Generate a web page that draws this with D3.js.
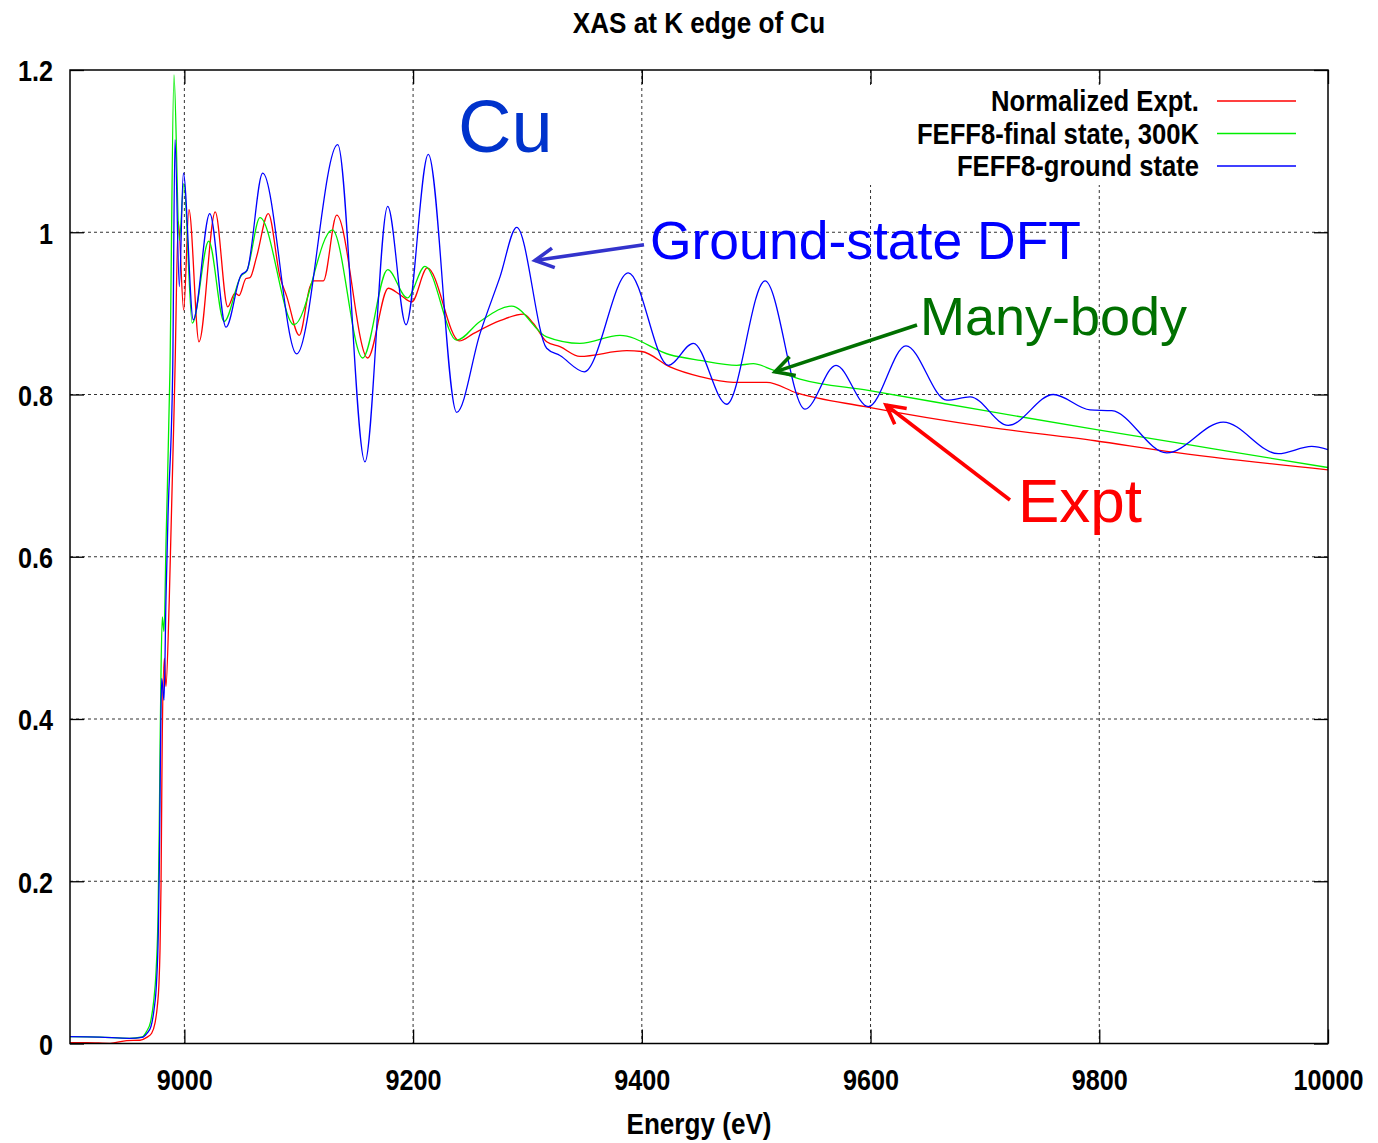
<!DOCTYPE html>
<html>
<head>
<meta charset="utf-8">
<script src="https://cdn.jsdelivr.net/npm/d3@7"></script>
<style>
  html, body { margin: 0; padding: 0; background: #fff; }
  svg { display: block; }
  .narrow { font-family: "Liberation Sans", Arial, Helvetica, sans-serif; font-weight: bold; }
  .ann { font-family: "Liberation Sans", Arial, Helvetica, sans-serif; }
</style>
</head>
<body>
<script>
// ---------------- data ----------------
const xTicks = [9000, 9200, 9400, 9600, 9800, 10000];
const yTicks = [0, 0.2, 0.4, 0.6, 0.8, 1.0, 1.2];
const seriesNames = ["Normalized Expt.", "FEFF8-final state, 300K", "FEFF8-ground state"];
const seriesColors = ["#ff0000", "#00ee00", "#0000ff"];

// Normalized experiment (red)
const exptE = [8900, 8915, 8935, 8949.6, 8961.2, 8967.1, 8971.4, 8974.3, 8976.3, 8977.8, 8978.7, 8979.6, 8980.2, 8980.7, 8982.5, 8983.9, 8986.8, 8991.8, 8994.7, 8999.4, 9004, 9012.8, 9027, 9037.9, 9044.3, 9047.8, 9053.9, 9057.4, 9063.2, 9073.4, 9083.6, 9089.5, 9100.5, 9109.9, 9112.8, 9121.5, 9133.2, 9160.3, 9178.3, 9188.6, 9198.8, 9212.4, 9240.4, 9252.6, 9276, 9296.4, 9305, 9316.8, 9328.4, 9345.9, 9386.8, 9400, 9424.6, 9450.9, 9480, 9509.2, 9535.4, 9595.1, 9701.6, 9796.3, 9859, 10000];
const exptV = [0.001, 0.001, 0.0002, 0.0035, 0.004, 0.0076, 0.0126, 0.025, 0.045, 0.074, 0.115, 0.197, 0.300, 0.382, 0.475, 0.440, 0.547, 0.83, 1.013, 0.904, 1.028, 0.865, 1.025, 0.908, 0.925, 0.922, 0.943, 0.944, 0.970, 1.023, 0.945, 0.921, 0.873, 0.933, 0.940, 0.940, 1.021, 0.845, 0.931, 0.923, 0.914, 0.956, 0.866, 0.875, 0.891, 0.899, 0.888, 0.865, 0.859, 0.847, 0.854, 0.853, 0.834, 0.822, 0.815, 0.815, 0.802, 0.785, 0.760, 0.743, 0.730, 0.707];

// FEFF8 final state, 300K (green)
const fsE = [8900, 8926, 8952, 8963, 8967, 8970.5, 8973, 8975.3, 8977, 8978, 8978.8, 8979.6, 8980.7, 8982.2, 8984, 8987.4, 8990.9, 8995.6, 8999.5, 9006.9, 9021.3, 9034.7, 9049.5, 9054.8, 9066.1, 9095.9, 9129.4, 9155.9, 9177.8, 9194.9, 9210.4, 9238.1, 9258.5, 9286.2, 9316.8, 9345.9, 9380.9, 9424.6, 9450.9, 9483, 9497.5, 9515, 9538.3, 9598, 9700, 9796.3, 9900, 10000];
const fsV = [0.0084, 0.0078, 0.0064, 0.008, 0.015, 0.027, 0.05, 0.09, 0.16, 0.26, 0.37, 0.46, 0.526, 0.508, 0.62, 0.83, 1.194, 0.99, 1.06, 0.888, 0.989, 0.890, 0.946, 0.953, 1.018, 0.886, 1.003, 0.845, 0.954, 0.919, 0.958, 0.867, 0.890, 0.909, 0.871, 0.863, 0.873, 0.849, 0.842, 0.836, 0.838, 0.830, 0.819, 0.805, 0.780, 0.757, 0.733, 0.710];

// FEFF8 ground state (blue)
const gsE = [8900, 8926, 8952, 8963, 8967.3, 8970.8, 8973.4, 8975.6, 8977.2, 8978.1, 8978.7, 8979.3, 8980.2, 8982.2, 8983.9, 8985.7, 8989.8, 8991.8, 8995.6, 8999.1, 9007.8, 9022.2, 9036.4, 9049.5, 9054.8, 9068.5, 9098.2, 9134.1, 9157.9, 9177.8, 9193.8, 9213.3, 9238.1, 9258.5, 9276, 9290.6, 9316.8, 9328.4, 9349.7, 9388.2, 9423.2, 9445, 9474.2, 9507.7, 9542.7, 9569.8, 9598, 9631, 9666.6, 9687, 9720.4, 9759.8, 9791.9, 9810.9, 9859, 9908.4, 9956.5, 9985.7, 10000];
const gsV = [0.0084, 0.0078, 0.0064, 0.0076, 0.0126, 0.021, 0.041, 0.074, 0.136, 0.218, 0.300, 0.382, 0.450, 0.423, 0.547, 0.65, 0.83, 1.114, 0.933, 1.073, 0.892, 1.023, 0.883, 0.947, 0.953, 1.073, 0.850, 1.108, 0.717, 1.032, 0.886, 1.096, 0.778, 0.875, 0.945, 1.006, 0.857, 0.848, 0.828, 0.950, 0.836, 0.863, 0.788, 0.940, 0.782, 0.836, 0.785, 0.860, 0.793, 0.797, 0.762, 0.800, 0.781, 0.780, 0.728, 0.766, 0.727, 0.736, 0.732];

// annotations (data coordinates)
const annTexts = ["Cu", "Ground-state DFT", "Many-body", "Expt"];
const annAt = [[9239.3, 1.099], [9407.1, 0.967], [9643.2, 0.8735], [9728.9, 0.6429]];
const annSize = [74, 53.5, 54, 62];
const annColor = ["#0033cc", "#0000ff", "#007000", "#ff0000"];
const arrowFrom = [[9401.9, 0.9845], [9640.6, 0.8857], [9721.9, 0.670]];
const arrowTo = [[9306.6, 0.9652], [9516.5, 0.8279], [9613.5, 0.787]];
const arrowColor = ["#3333cc", "#007000", "#ff0000"];

// ---------------- chart ----------------
const W = 1378, H = 1143;
const L = 70, R = 1328, T = 70, B = 1043.5;
const svg = d3.select("body").append("svg").attr("width", W).attr("height", H);
svg.append("rect").attr("width", W).attr("height", H).attr("fill", "#fff");

const x = d3.scaleLinear().domain([8900, 10000]).range([L, R]);
const y = d3.scaleLinear().domain([0, 1.2]).range([B, T]);

// make a text element look like a narrow Helvetica (horizontal compression)
function narrowize(sel, k) {
  sel.each(function () {
    const t = d3.select(this);
    const xa = +(t.attr("x") || 0);
    t.attr("class", "narrow").attr("x", xa / k)
      .attr("transform", `scale(${k},1)`);
  });
}

// grid
const grid = svg.append("g").attr("stroke", "#333").attr("stroke-width", 1).attr("stroke-dasharray", "3,3");
xTicks.filter(d => d < 10000).forEach(d => {
  grid.append("line").attr("x1", x(d)).attr("x2", x(d)).attr("y1", T).attr("y2", B);
});
yTicks.filter(d => d > 0 && d < 1.2).forEach(d => {
  grid.append("line").attr("x1", L).attr("x2", R).attr("y1", y(d)).attr("y2", y(d));
});

// legend background (masks grid)
svg.append("rect").attr("x", 858).attr("y", 85).attr("width", 452).attr("height", 100).attr("fill", "#fff");

// curves
svg.append("clipPath").attr("id", "clip").append("rect")
  .attr("x", L).attr("y", T).attr("width", R - L).attr("height", B - T);
const line = d3.line().x(d => x(d[0])).y(d => y(d[1])).curve(d3.curveMonotoneX);
const zip = (a, b) => a.map((e, i) => [e, b[i]]);
const allSeries = [zip(exptE, exptV), zip(fsE, fsV), zip(gsE, gsV)];
const curves = svg.append("g").attr("clip-path", "url(#clip)");
allSeries.forEach((s, i) => {
  curves.append("path").attr("d", line(s)).attr("fill", "none")
    .attr("stroke", seriesColors[i]).attr("stroke-width", 1.3).attr("stroke-linejoin", "round");
});

// axes (inward ticks)
const fmtY = d => String(+d.toFixed(1));
const axB = svg.append("g").attr("transform", `translate(0,${B})`)
  .call(d3.axisBottom(x).tickValues(xTicks).tickSizeInner(-14).tickSizeOuter(0).tickPadding(25).tickFormat(d3.format("d")));
const axT = svg.append("g").attr("transform", `translate(0,${T})`)
  .call(d3.axisTop(x).tickValues(xTicks).tickSizeInner(-14).tickSizeOuter(0).tickFormat(""));
const axL = svg.append("g").attr("transform", `translate(${L},0)`)
  .call(d3.axisLeft(y).tickValues(yTicks).tickSizeInner(-14).tickSizeOuter(0).tickPadding(17).tickFormat(fmtY));
const axR = svg.append("g").attr("transform", `translate(${R},0)`)
  .call(d3.axisRight(y).tickValues(yTicks).tickSizeInner(-14).tickSizeOuter(0).tickFormat(""));
[axB, axT, axL, axR].forEach(a => {
  a.select(".domain").remove();
  a.selectAll("line").attr("stroke", "#000").attr("stroke-width", 1.3);
  a.selectAll("text").attr("font-size", 30).attr("fill", "#000");
});
axL.selectAll("text").attr("dy", "0.36em");
narrowize(axB.selectAll("text"), 0.84);
narrowize(axL.selectAll("text"), 0.84);

// border
svg.append("rect").attr("x", L).attr("y", T).attr("width", R - L).attr("height", B - T)
  .attr("fill", "none").attr("stroke", "#000").attr("stroke-width", 1.5);

// title & axis label
narrowize(svg.append("text").attr("x", 699).attr("y", 33).attr("text-anchor", "middle")
  .attr("font-size", 30).text("XAS at K edge of Cu"), 0.87);
narrowize(svg.append("text").attr("x", 699).attr("y", 1134).attr("text-anchor", "middle")
  .attr("font-size", 30).text("Energy (eV)"), 0.87);

// legend
const legRows = [101, 133.5, 166];
seriesNames.forEach((n, i) => {
  narrowize(svg.append("text").attr("x", 1199).attr("y", legRows[i] + 10.5)
    .attr("text-anchor", "end").attr("font-size", 30).text(n), 0.855);
  svg.append("line").attr("x1", 1217).attr("x2", 1296).attr("y1", legRows[i]).attr("y2", legRows[i])
    .attr("stroke", seriesColors[i]).attr("stroke-width", 1.3);
});

// annotations
annTexts.forEach((t, i) => {
  svg.append("text").attr("class", "ann").attr("x", x(annAt[i][0])).attr("y", y(annAt[i][1]))
    .attr("font-size", annSize[i]).attr("fill", annColor[i]).text(t);
});
arrowFrom.forEach((f, i) => {
  const x1 = x(f[0]), y1 = y(f[1]), x2 = x(arrowTo[i][0]), y2 = y(arrowTo[i][1]);
  const ang = Math.atan2(y1 - y2, x1 - x2);
  const hl = 21, ha = 28 * Math.PI / 180;
  const g = svg.append("g").attr("stroke", arrowColor[i]).attr("stroke-width", 3.6).attr("fill", "none");
  g.append("line").attr("x1", x1).attr("y1", y1).attr("x2", x2).attr("y2", y2);
  g.append("path").attr("d",
    `M${x2 + hl * Math.cos(ang - ha)},${y2 + hl * Math.sin(ang - ha)}L${x2},${y2}L${x2 + hl * Math.cos(ang + ha)},${y2 + hl * Math.sin(ang + ha)}`);
});
</script>
</body>
</html>
